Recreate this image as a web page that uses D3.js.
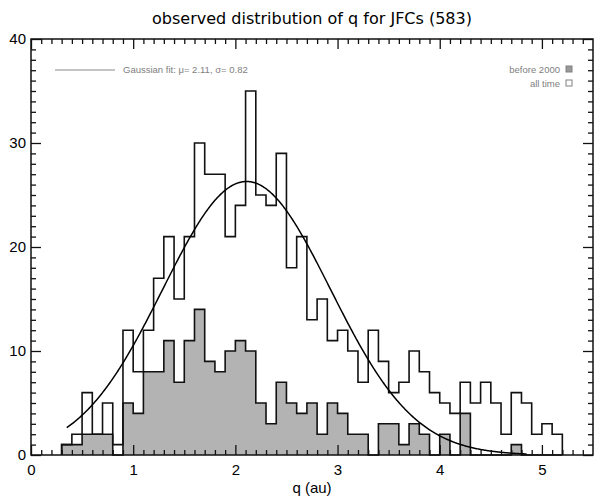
<!DOCTYPE html>
<html>
<head>
<meta charset="utf-8">
<script src="https://cdn.jsdelivr.net/npm/d3@7"></script>
<style>
  body { margin: 0; background: #fff; }
  text { font-family: "Liberation Sans", Arial, sans-serif; }
</style>
</head>
<body>
<div id="chart"></div>
<script>

// histogram bins (left edge, au) and counts
var binWidth = 0.1;
var qLeft = [0.3, 0.4, 0.5, 0.6, 0.7, 0.8, 0.9, 1.0, 1.1, 1.2,
             1.3, 1.4, 1.5, 1.6, 1.7, 1.8, 1.9, 2.0, 2.1, 2.2,
             2.3, 2.4, 2.5, 2.6, 2.7, 2.8, 2.9, 3.0, 3.1, 3.2,
             3.3, 3.4, 3.5, 3.6, 3.7, 3.8, 3.9, 4.0, 4.1, 4.2,
             4.3, 4.4, 4.5, 4.6, 4.7, 4.8, 4.9, 5.0, 5.1];
var allTime = [1, 2, 6, 2, 5, 1, 12, 8, 12, 17,
               21, 15, 21, 30, 27, 27, 21, 24, 35, 25,
               24, 29, 18, 21, 13, 15, 11, 12, 10, 7,
               12, 9, 6, 7, 10, 8, 6, 5, 4, 7,
               5, 7, 5, 2, 6, 5, 2, 3, 2];
var before2000 = [1, 1, 2, 2, 2, 0, 5, 4, 8, 8,
                  11, 7, 11, 14, 9, 8, 10, 11, 10, 5,
                  3, 7, 5, 4, 5, 2, 5, 4, 2, 2,
                  0, 3, 3, 1, 3, 2, 0, 2, 0, 4,
                  0, 0, 0, 0, 1, 0, 0, 0, 0];

// gaussian fit (from legend), peak height
var fitMu = 2.11, fitSigma = 0.82, fitPeak = 26.3;
var fitRange = [0.35, 4.85];

var xMajor = [0, 1, 2, 3, 4, 5];
var yMajor = [0, 10, 20, 30, 40];

var title = "observed distribution of q for JFCs (583)";
var xTitle = "q (au)";

var W = 602, H = 497;
var margin = { top: 39, right: 9, bottom: 42, left: 31 };
var width = W - margin.left - margin.right,
    height = H - margin.top - margin.bottom;

var svg = d3.select("#chart").append("svg")
    .attr("width", W)
    .attr("height", H);

var g = svg.append("g")
    .attr("transform", "translate(" + margin.left + "," + margin.top + ")");

var x = d3.scaleLinear().domain([0, 5.5]).range([0, width]);
var y = d3.scaleLinear().domain([0, 40]).range([height, 0]);

// step points for a histogram
function stepPoints(counts, closeToZero) {
    var pts = [];
    if (closeToZero) pts.push([qLeft[0], 0]);
    counts.forEach(function(c, i) { pts.push([qLeft[i], c]); });
    var last = qLeft[qLeft.length - 1] + binWidth;
    pts.push([last, counts[counts.length - 1]]);
    if (closeToZero) pts.push([last, 0]);
    return pts;
}

var area = d3.area()
    .curve(d3.curveStepAfter)
    .x(function(d) { return x(d[0]); })
    .y0(y(0))
    .y1(function(d) { return y(d[1]); });

var line = d3.line()
    .curve(d3.curveStepAfter)
    .x(function(d) { return x(d[0]); })
    .y(function(d) { return y(d[1]); });

g.append("path")
    .attr("d", area(stepPoints(before2000, false)))
    .attr("fill", "#b3b3b3");

g.append("path")
    .attr("d", line(stepPoints(before2000, true)))
    .attr("fill", "none")
    .attr("stroke", "#111")
    .attr("stroke-width", 1.6);

g.append("path")
    .attr("d", line(stepPoints(allTime, true)))
    .attr("fill", "none")
    .attr("stroke", "#111")
    .attr("stroke-width", 1.6);

// fit curve
var fitQ = d3.range(fitRange[0], fitRange[1] + 0.001, 0.01);
var gauss = d3.line()
    .x(function(d) { return x(d); })
    .y(function(d) {
        var z = (d - fitMu) / fitSigma;
        return y(fitPeak * Math.exp(-0.5 * z * z));
    });

g.append("path")
    .attr("d", gauss(fitQ))
    .attr("fill", "none")
    .attr("stroke", "#000")
    .attr("stroke-width", 1.5);

// axes: ticks inside on all four sides
var xMinor = d3.range(0, 55).map(function(i) { return i / 10; }).filter(function(v) { return xMajor.indexOf(v) < 0; });
var yMinor = d3.range(0, 41).filter(function(v) { return yMajor.indexOf(v) < 0; });

function axisGroup(axis, tx, ty) {
    var a = g.append("g")
        .attr("transform", "translate(" + tx + "," + ty + ")")
        .call(axis);
    a.select(".domain").remove();
    a.selectAll("line").attr("stroke", "#111").attr("stroke-width", 1.3);
    return a;
}

var xb = axisGroup(d3.axisBottom(x).tickValues(xMajor).tickSize(-10).tickPadding(9).tickFormat(d3.format("d")), 0, height);
axisGroup(d3.axisBottom(x).tickValues(xMinor).tickSize(-5).tickFormat(""), 0, height);
axisGroup(d3.axisTop(x).tickValues(xMajor).tickSize(-10).tickFormat(""), 0, 0);
axisGroup(d3.axisTop(x).tickValues(xMinor).tickSize(-5).tickFormat(""), 0, 0);

var yl = axisGroup(d3.axisLeft(y).tickValues(yMajor).tickSize(-10).tickPadding(5).tickFormat(d3.format("d")), 0, 0);
axisGroup(d3.axisLeft(y).tickValues(yMinor).tickSize(-5).tickFormat(""), 0, 0);
axisGroup(d3.axisRight(y).tickValues(yMajor).tickSize(-10).tickFormat(""), width, 0);
axisGroup(d3.axisRight(y).tickValues(yMinor).tickSize(-5).tickFormat(""), width, 0);

xb.selectAll("text").attr("font-size", "15px").attr("fill", "#000");
yl.selectAll("text").attr("font-size", "15px").attr("fill", "#000");

g.append("rect")
    .attr("width", width)
    .attr("height", height)
    .attr("fill", "none")
    .attr("stroke", "#111")
    .attr("stroke-width", 1.5);

// titles
svg.append("text")
    .attr("x", margin.left + width / 2)
    .attr("y", 24)
    .attr("text-anchor", "middle")
    .style("font-family", "'DejaVu Sans', sans-serif")
    .style("font-size", "16px")
    .text(title);

svg.append("text")
    .attr("x", margin.left + width / 2)
    .attr("y", 493)
    .attr("text-anchor", "middle")
    .attr("font-size", "15px")
    .text(xTitle);

// legend
svg.append("line")
    .attr("x1", 55).attr("x2", 115)
    .attr("y1", 70).attr("y2", 70)
    .attr("stroke", "#b0b0b0")
    .attr("stroke-width", 1.5);

svg.append("text")
    .attr("x", 123)
    .attr("y", 73)
    .attr("font-size", "9.5px")
    .attr("fill", "#808080")
    .text("Gaussian fit: \u03bc= 2.11, \u03c3= 0.82");

var legendItems = [
    { label: "before 2000", fill: "#999" },
    { label: "all time", fill: "#fff" }
];

var leg = svg.selectAll("g.leg")
    .data(legendItems)
    .enter().append("g")
    .attr("class", "leg")
    .attr("transform", function(d, i) { return "translate(0," + (73 + i * 14) + ")"; });

leg.append("text")
    .attr("x", 560)
    .attr("text-anchor", "end")
    .attr("font-size", "9.5px")
    .attr("fill", "#808080")
    .text(function(d) { return d.label; });

leg.append("rect")
    .attr("x", 566)
    .attr("y", -7)
    .attr("width", 6)
    .attr("height", 6)
    .attr("fill", function(d) { return d.fill; })
    .attr("stroke", "#808080")
    .attr("stroke-width", 1);

</script>
</body>
</html>
